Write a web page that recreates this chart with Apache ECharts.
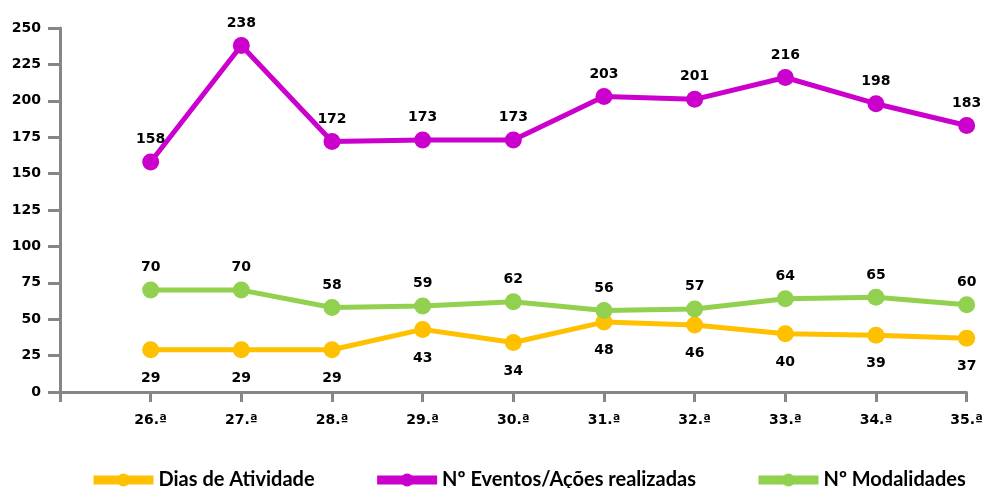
<!DOCTYPE html>
<html><head><meta charset="utf-8">
<script src="https://cdn.jsdelivr.net/npm/echarts@6/dist/echarts.min.js"></script>
<style>html,body{margin:0;padding:0;background:#fff}#c{width:986px;height:488px}</style>
</head><body><div id="c"></div>
<script>
var editions = [26, 27, 28, 29, 30, 31, 32, 33, 34, 35];
var seriesNames = ['Dias de Atividade', 'Nº Eventos/Ações realizadas', 'Nº Modalidades'];
var diasAtividade = [29, 29, 29, 43, 34, 48, 46, 40, 39, 37];
var eventos = [158, 238, 172, 173, 173, 203, 201, 216, 198, 183];
var modalidades = [70, 70, 58, 59, 62, 56, 57, 64, 65, 60];
var yTicks = [0, 25, 50, 75, 100, 125, 150, 175, 200, 225, 250];

function pairs(arr){ return editions.map(function(e,i){ return [e, arr[i]]; }); }
function mk(name, data, color, pos){
  return {
    name:name, type:'line', data:pairs(data), symbol:'circle', symbolSize:17,
    lineStyle:{width:5, color:color}, itemStyle:{color:color},
    label:{show:true, position:pos, distance:pos==='top'?7:13,
      fontFamily:'DejaVu Sans', fontWeight:'bold', fontSize:14, color:'#000'},
    emphasis:{disabled:true}, animation:false
  };
}
var chart = echarts.init(document.getElementById('c'));
var axisCol = '#868686';
chart.setOption({
  animation:false,
  grid:{left:60, right:17, top:28, bottom:96},
  xAxis:{type:'value', min:25, max:35, interval:1,
    axisLine:{show:true, lineStyle:{color:axisCol, width:3}},
    axisTick:{show:true, length:10, lineStyle:{color:axisCol, width:3}},
    splitLine:{show:false},
    axisLabel:{margin:21, fontFamily:'DejaVu Sans', fontWeight:'bold', fontSize:14, color:'#000',
      formatter:function(v){ return editions.indexOf(v)>=0 ? v + '.ª' : ''; }}
  },
  yAxis:{type:'value', min:yTicks[0], max:yTicks[yTicks.length-1], interval:25,
    axisLine:{show:true, lineStyle:{color:axisCol, width:3}},
    axisTick:{show:true, length:12, lineStyle:{color:axisCol, width:3}},
    splitLine:{show:false},
    axisLabel:{margin:19, fontFamily:'DejaVu Sans', fontWeight:'bold', fontSize:14, color:'#000'}
  },
  legend:{left:89, top:470, padding:0, itemWidth:60, itemHeight:16, itemGap:58,
    lineStyle:{width:9},
    textStyle:{fontFamily:'Lato', fontWeight:'bold', fontSize:20, color:'#000'},
    data:seriesNames},
  series:[
    mk(seriesNames[0], diasAtividade, '#FFC000', 'bottom'),
    mk(seriesNames[1], eventos, '#CC00CC', 'top'),
    mk(seriesNames[2], modalidades, '#92D050', 'top')
  ]
});
</script></body></html>
